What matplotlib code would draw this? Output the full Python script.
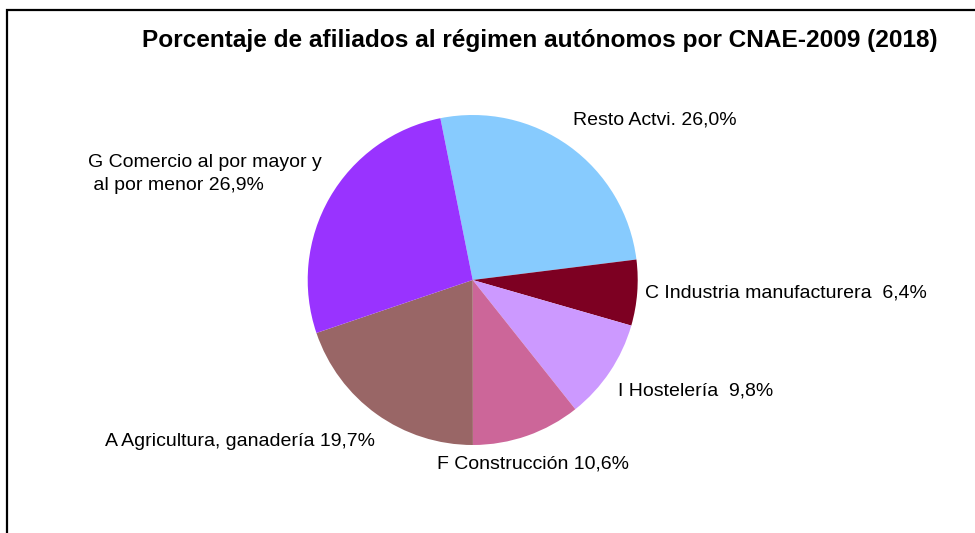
import matplotlib
matplotlib.use("Agg")
import matplotlib.pyplot as plt
from matplotlib.patches import Rectangle

plt.rcParams['font.family'] = ['Liberation Sans', 'DejaVu Sans']

title = "Porcentaje de afiliados al régimen autónomos por CNAE-2009 (2018)"
categories = ["Resto Actvi.", "C Industria manufacturera ", "I Hostelería ",
              "F Construcción", "A Agricultura, ganadería", "G Comercio al por mayor y\n al por menor"]
values = [26.0, 6.4, 9.8, 10.6, 19.7, 26.9]
value_labels = ["26,0%", "6,4%", "9,8%", "10,6%", "19,7%", "26,9%"]
colors = ["#87CBFE", "#7D0022", "#CC99FF", "#CC6699", "#996666", "#9933FF"]

W, H = 975, 533
fig = plt.figure(figsize=(W / 100, H / 100), dpi=100)

# frame
fig.patches.append(Rectangle((7 / W, -0.1), 1.2, 1 - 10 / H + 0.1, transform=fig.transFigure,
                             fill=False, edgecolor='black', linewidth=1.6))

cx, cy, r = 472.7, 280, 165
ax = fig.add_axes([(cx - r) / W, (H - cy - r) / H, 2 * r / W, 2 * r / H])
ax.pie(values, colors=colors, startangle=101.3, counterclock=False,
       wedgeprops=dict(linewidth=0), radius=1)
ax.set_xlim(-1, 1)
ax.set_ylim(-1, 1)
ax.set_aspect('equal')
ax.axis('off')

fig.text(540 / W, 1 - 40 / H, title, ha='center', va='center', fontsize=17.6, fontweight='bold')

label_pos = [(573, 120), (645, 293), (618, 391), (437, 464), (105, 441), (88, 174)]
for (x, y), cat, vl in zip(label_pos, categories, value_labels):
    fig.text(x / W, 1 - y / H, f"{cat} {vl}", ha='left', va='center', fontsize=14,
             linespacing=1.42)

fig.savefig("out.png", dpi=100)
